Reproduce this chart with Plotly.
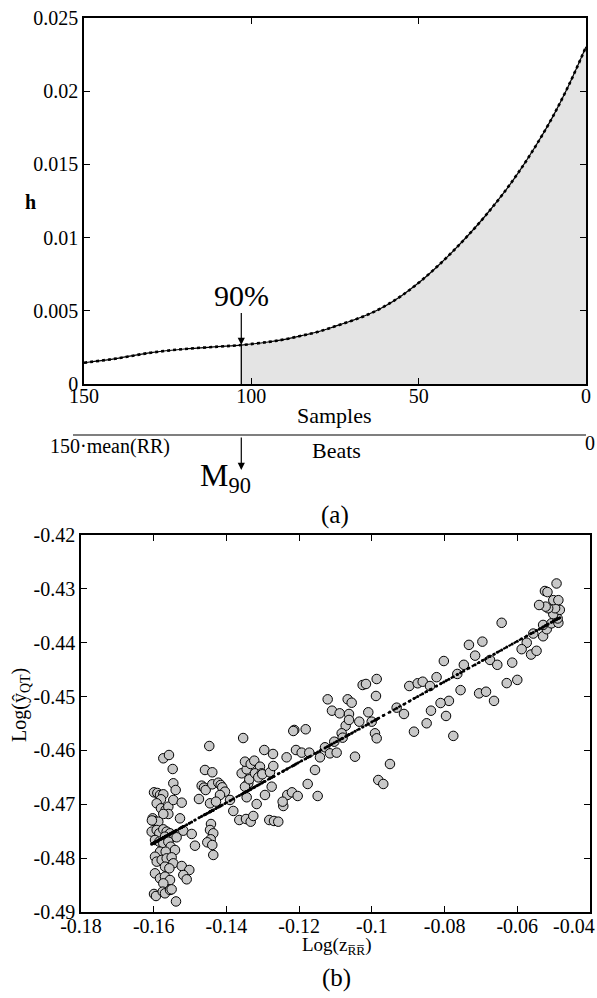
import plotly.graph_objects as go

W, H = 597, 998
FONT = "Liberation Serif, Times New Roman, serif"

# ---------- (a) data ----------
samples = [150, 140, 130, 120, 110, 103, 95, 90, 85, 80, 75, 70, 65, 60, 55, 50,
           45, 40, 35, 30, 25, 20, 15, 10, 5, 0]
h_vals = [0.00145, 0.00175, 0.00214, 0.00239, 0.00255, 0.00266, 0.00287, 0.00305,
          0.00330, 0.00357, 0.00394, 0.00432, 0.00476, 0.00533, 0.00605, 0.00691,
          0.00791, 0.00901, 0.01021, 0.01151, 0.01293, 0.01451, 0.01627, 0.01823,
          0.02048, 0.02303]
m90_sample = 103
a_xticks = [150, 100, 50, 0]
a_yticks = [0, 0.005, 0.01, 0.015, 0.02, 0.025]
a_yticktext = ["0", "0.005", "0.01", "0.015", "0.02", "0.025"]

# ---------- (b) data ----------
log_z_rr = [
    -0.15992, -0.15900, -0.15827, -0.15736, -0.15800, -0.15736, -0.15580, -0.15478, -0.15461, -0.15396,
    -0.15918, -0.15800, -0.15671, -0.15598, -0.15598, -0.15461, -0.15736, -0.15277, -0.15230, -0.16029,
    -0.15992, -0.15874, -0.16056, -0.15918, -0.15846, -0.15736, -0.15644, -0.15552, -0.15461, -0.15370,
    -0.15690, -0.15965, -0.15846, -0.15736, -0.15598, -0.15534, -0.15415, -0.15827, -0.15671, -0.15965,
    -0.15918, -0.15781, -0.15644, -0.15507, -0.15461, -0.15690, -0.15570, -0.15230, -0.15021, -0.15186,
    -0.15093, -0.15965, -0.15827, -0.15690, -0.15552, -0.15736, -0.15992, -0.15937, -0.15753, -0.15690,
    -0.15552, -0.15507, -0.15387, -0.15186, -0.16050,
    -0.14955, -0.14865, -0.14755, -0.14681, -0.14617, -0.14571, -0.14590, -0.14389, -0.14472, -0.14389,
    -0.14452, -0.14425, -0.14452, -0.14362, -0.14433, -0.14526, -0.14389, -0.14362, -0.14224, -0.14158,
    -0.14114, -0.14040, -0.14177, -0.14287, -0.13902, -0.13811, -0.13646, -0.13462, -0.13333, -0.13261,
    -0.13168, -0.13443, -0.13399, -0.13490, -0.13371, -0.13581, -0.13443, -0.13490, -0.13333, -0.13234,
    -0.13077, -0.13215, -0.13031, -0.13124, -0.12959, -0.12755, -0.12940, -0.12821, -0.12692, -0.12574,
    -0.12436, -0.12719, -0.12326, -0.12454, -0.12197, -0.12040, -0.12345, -0.12087, -0.13014, -0.12802,
    -0.12711, -0.13540,
    -0.11930, -0.11721, -0.11427, -0.11289, -0.11152, -0.10968, -0.11034, -0.10464, -0.11564, -0.11765,
    -0.11490, -0.12134, -0.12161, -0.11820, -0.11215, -0.10665, -0.10555, -0.11097, -0.10885, -0.10629,
    -0.10098, -0.10720, -0.10830, -0.10803, -0.10629, -0.10346, -0.10005, -0.09914, -0.09867, -0.09887,
    -0.09867, -0.10253, -0.10162,
    -0.09502, -0.09823, -0.09686, -0.09318, -0.09117, -0.08842, -0.08493, -0.08374, -0.08971, -0.08740,
    -0.08602, -0.08401, -0.08220, -0.08020, -0.07650, -0.07470, -0.07330, -0.06960, -0.07160, -0.06750,
    -0.06550, -0.06140, -0.06430, -0.05740, -0.05880, -0.05620, -0.05470, -0.05560, -0.05290, -0.05190,
    -0.05290, -0.05060, -0.04870, -0.04890, -0.05010, -0.04830, -0.04960, -0.05150, -0.05220, -0.05400,
    -0.05010, -0.04870, -0.05240, -0.05170, -0.04920, -0.07560, -0.06290, -0.06000, -0.07050, -0.06860,
    -0.06640, -0.07880, -0.08110, -0.07960, -0.07760,
]
log_y_qt = [
    -0.46778, -0.46790, -0.46827, -0.46815, -0.46907, -0.46146, -0.46085, -0.46345, -0.46610, -0.46735,
    -0.46982, -0.47075, -0.47106, -0.47044, -0.47180, -0.46920, -0.47180, -0.47261, -0.46970, -0.47261,
    -0.47311, -0.47323, -0.47508, -0.47477, -0.47539, -0.47465, -0.47508, -0.47539, -0.47601, -0.47613,
    -0.47601, -0.47663, -0.47694, -0.47725, -0.47694, -0.47787, -0.47849, -0.47880, -0.47880, -0.47973,
    -0.48065, -0.48034, -0.48004, -0.47985, -0.48096, -0.48158, -0.48189, -0.48146, -0.48220, -0.48313,
    -0.48393, -0.48282, -0.48375, -0.48344, -0.48406, -0.48468, -0.48665, -0.48703, -0.48622, -0.48653,
    -0.48591, -0.48579, -0.48804, -0.47490, -0.47300,
    -0.47551, -0.47769, -0.46902, -0.46654, -0.46691, -0.46735, -0.46363, -0.46406, -0.45918, -0.46629,
    -0.46982, -0.47366, -0.47477, -0.47539, -0.47650, -0.47706, -0.47756, -0.47941, -0.46599, -0.46642,
    -0.46685, -0.46766, -0.46827, -0.46951, -0.46920, -0.47124, -0.47292, -0.47273, -0.47323, -0.47217,
    -0.46995, -0.46870, -0.46610, -0.46673, -0.46536, -0.46425, -0.46351, -0.46209, -0.46252, -0.46190,
    -0.46302, -0.46425, -0.46425, -0.46500, -0.45992, -0.46673, -0.46827, -0.47292, -0.47310, -0.47323,
    -0.47032, -0.46066, -0.46827, -0.46951, -0.46778, -0.46846, -0.46128, -0.45992, -0.46443, -0.46406,
    -0.46289, -0.45770,
    -0.46041, -0.46041, -0.46128, -0.45942, -0.46054, -0.46041, -0.45838, -0.46116, -0.46363, -0.46623,
    -0.46846, -0.45620, -0.45639, -0.45607, -0.45051, -0.45051, -0.45114, -0.45262, -0.45311, -0.45323,
    -0.45292, -0.45541, -0.45682, -0.45763, -0.45434, -0.45466, -0.45466, -0.45682, -0.45775, -0.44989,
    -0.44674, -0.44785, -0.44766,
    -0.46252, -0.46549, -0.46623, -0.45206, -0.45323, -0.45652, -0.45496, -0.45262, -0.44804, -0.44753,
    -0.44724, -0.44804, -0.44640, -0.44340, -0.44580, -0.44410, -0.44040, -0.43980, -0.44240, -0.44320,
    -0.44410, -0.44370, -0.43630, -0.44000, -0.44120, -0.44220, -0.44150, -0.43830, -0.43880, -0.43750,
    -0.43670, -0.43640, -0.43630, -0.43550, -0.43470, -0.43390, -0.43360, -0.43360, -0.43330, -0.43300,
    -0.43210, -0.43210, -0.43040, -0.43060, -0.42900, -0.44880, -0.44750, -0.44690, -0.44940, -0.44910,
    -0.45080, -0.45080, -0.45120, -0.45360, -0.45730,
]
fit_slope = 0.3745
fit_intercept = -0.41726
b_xticks = [-0.18, -0.16, -0.14, -0.12, -0.1, -0.08, -0.06, -0.04]
b_xticktext = ["-0.18", "-0.16", "-0.14", "-0.12", "-0.1", "-0.08", "-0.06", "-0.04"]
b_yticks = [-0.49, -0.48, -0.47, -0.46, -0.45, -0.44, -0.43, -0.42]
b_yticktext = ["-0.49", "-0.48", "-0.47", "-0.46", "-0.45", "-0.44", "-0.43", "-0.42"]

def px(x):
    return x / W

def py(y):
    return 1 - y / H

fig = go.Figure()

# --- (a) shaded area from the 90% point to 0 ---
idx = samples.index(m90_sample)
fill_x = samples[idx:]
fill_y = h_vals[idx:]
fig.add_trace(go.Scatter(x=fill_x, y=fill_y, mode="lines", fill="tozeroy",
                         fillcolor="#e4e4e4", line=dict(width=0, shape="spline"),
                         xaxis="x", yaxis="y", hoverinfo="skip", showlegend=False))
fig.add_trace(go.Scatter(x=[m90_sample, m90_sample], y=[0, h_vals[idx]], mode="lines",
                         line=dict(color="black", width=1.3), xaxis="x", yaxis="y",
                         showlegend=False))
fig.add_trace(go.Scatter(x=samples, y=h_vals, mode="lines",
                         line=dict(color="black", width=1.2, shape="spline"),
                         xaxis="x", yaxis="y", showlegend=False))
fig.add_trace(go.Scatter(x=samples, y=h_vals, mode="lines",
                         line=dict(color="black", width=2.6, dash="dot", shape="spline"),
                         xaxis="x", yaxis="y", showlegend=False))

# --- (b) scatter ---
fig.add_trace(go.Scatter(x=log_z_rr, y=log_y_qt, mode="markers",
                         marker=dict(size=9.5, color="#c8c8c8",
                                     line=dict(color="black", width=1)),
                         xaxis="x2", yaxis="y2", showlegend=False))
fx = sorted(log_z_rr)
fy = [fit_intercept + fit_slope * v for v in fx]
fig.add_trace(go.Scatter(x=fx, y=fy, mode="lines+markers",
                         line=dict(color="black", width=2.2, dash="dot"),
                         marker=dict(size=3, color="black"),
                         xaxis="x2", yaxis="y2", showlegend=False))

axis_common = dict(showline=True, linecolor="black", linewidth=1.5, mirror="ticks",
                   ticks="inside", ticklen=6, tickwidth=1, tickcolor="black",
                   showgrid=False, zeroline=False, automargin=False,
                   tickfont=dict(family=FONT, size=20, color="black"))

# last x label of (b) is drawn separately, flush with the right edge as in the reference
b_xticktext_axis = b_xticktext[:-1] + [""]

fig.update_layout(
    template="none",
    width=W, height=H,
    margin=dict(l=0, r=0, t=0, b=0, pad=0, autoexpand=False),
    paper_bgcolor="white", plot_bgcolor="white",
    font=dict(family=FONT, color="black"),
    xaxis=dict(domain=[px(84), px(586)], range=[150, 0], anchor="y",
               tickmode="array", tickvals=a_xticks, ticklabelstandoff=-7,
               ticklabeloverflow="allow", **axis_common),
    yaxis=dict(domain=[py(384), py(18)], range=[0, 0.025], anchor="x",
               tickmode="array", tickvals=a_yticks, ticktext=a_yticktext, **axis_common),
    xaxis2=dict(domain=[px(81), px(590)], range=[-0.18, -0.04], anchor="y2",
                tickmode="array", tickvals=b_xticks, ticktext=b_xticktext_axis,
                ticklabelstandoff=-5, ticklabeloverflow="allow", **axis_common),
    yaxis2=dict(domain=[py(912), py(535)], range=[-0.49, -0.42], anchor="x2",
                tickmode="array", tickvals=b_yticks, ticktext=b_yticktext, **axis_common),
)

# Beats axis line
fig.add_shape(type="line", xref="paper", yref="paper",
              x0=px(73), x1=px(586), y0=py(435), y1=py(435),
              line=dict(color="black", width=1.2))

def txt(text, x, y, size, **kw):
    fig.add_annotation(text=text, xref="paper", yref="paper", x=px(x), y=py(y),
                       showarrow=False, font=dict(family=FONT, size=size, color="black"),
                       xanchor=kw.pop("xanchor", "center"), yanchor=kw.pop("yanchor", "middle"),
                       **kw)

txt("<b>h</b>", 30, 202, 20)
txt("Samples", 334, 415, 22)
txt("150·mean(RR)", 110, 446, 20)
txt("0", 590, 443, 20)
txt("Beats", 336, 450, 22)
txt("M<sub>90</sub>", 225, 478, 32)
txt("(a)", 335, 515, 25)
txt("(b)", 336, 978, 25)
txt("Log(z<sub>R̅R̅</sub>)", 336, 946, 19)
txt("Log(ŷ<sub>QT</sub>)", 20, 705, 20, textangle=-90)
txt(b_xticktext[-1], 597, 926, 20, xanchor="right")

# 90% arrow
fig.add_annotation(x=m90_sample, y=h_vals[idx], xref="x", yref="y",
                   text="90%", showarrow=True, ax=0, ay=-50,
                   arrowhead=2, arrowsize=1.2, arrowwidth=1.2, arrowcolor="black",
                   font=dict(family=FONT, size=30, color="black"))
# M90 arrow on beats axis
fig.add_annotation(x=m90_sample, y=py(470), xref="x", yref="paper",
                   text="", showarrow=True, ax=0, ay=-34,
                   arrowhead=2, arrowsize=1.2, arrowwidth=1.2, arrowcolor="black")

fig.write_html("out.html", config={"displayModeBar": False},
               post_script="document.body.style.margin='0';document.body.style.overflow='hidden';")
